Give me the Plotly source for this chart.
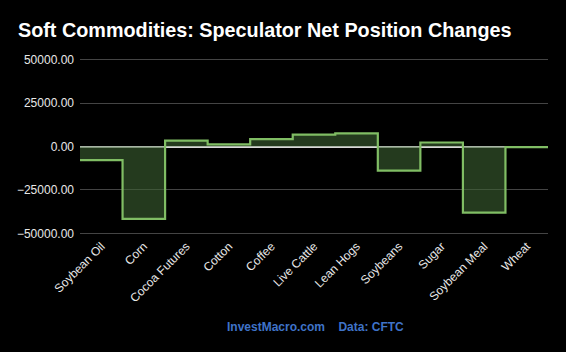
import plotly.graph_objects as go

categories = ["Soybean Oil", "Corn", "Cocoa Futures", "Cotton", "Coffee", "Live Cattle",
              "Lean Hogs", "Soybeans", "Sugar", "Soybean Meal", "Wheat"]
net_changes = [-7800, -41600, 3400, 1200, 4200, 6800, 7600, -13900, 2300, -38100, -400]
y_ticks = [-50000, -25000, 0, 25000, 50000]

n = len(categories)
# step edges: each category occupies a full band [i-0.5, i+0.5]
x_edges = [i - 0.5 for i in range(n)] + [n - 0.5]
y_edges = net_changes + [net_changes[-1]]

fig = go.Figure()
fig.add_trace(go.Scatter(
    x=x_edges, y=y_edges, mode="lines", line_shape="hv",
    line=dict(color="#80bd64", width=2.2),
    fill="tozeroy", fillcolor="rgba(60,96,50,0.6)",
    hoverinfo="skip", showlegend=False,
))

fig.update_layout(
    width=566, height=352,
    paper_bgcolor="#000000", plot_bgcolor="#000000",
    margin=dict(l=80, r=18, t=57, b=116),
    font=dict(family="Liberation Sans, Arial, sans-serif", color="#dddddd", size=12),
    title=dict(text="<b>Soft Commodities: Speculator Net Position Changes</b>",
               x=18/566, xref="container", xanchor="left",
               y=1-30/352, yref="container", yanchor="middle",
               font=dict(size=19.8, color="#ffffff", family="Liberation Sans, Arial, sans-serif")),
    xaxis=dict(range=[-0.5, n - 0.5], tickvals=list(range(n)), ticktext=categories,
               tickangle=-45, showgrid=False, zeroline=False, showline=False,
               ticks="", tickfont=dict(size=12, color="#e8e8e8")),
    yaxis=dict(range=[-51500, 51500], tickvals=y_ticks, tickformat=".2f",
               showgrid=True, gridcolor="#444444", gridwidth=1,
               zeroline=True, zerolinecolor="#d8d8d8", zerolinewidth=1.5,
               ticks="", ticklabelstandoff=5,
               tickfont=dict(size=12, color="#e8e8e8")),
    annotations=[dict(text="<b>InvestMacro.com</b>    <b>Data: CFTC</b>",
                      xref="paper", yref="paper", x=(315-80)/468, y=-91/179,
                      xanchor="center", yanchor="middle", showarrow=False,
                      font=dict(size=12, color="#3f73c8",
                                family="Liberation Sans, Arial, sans-serif"))],
)

fig.write_html("out.html")
